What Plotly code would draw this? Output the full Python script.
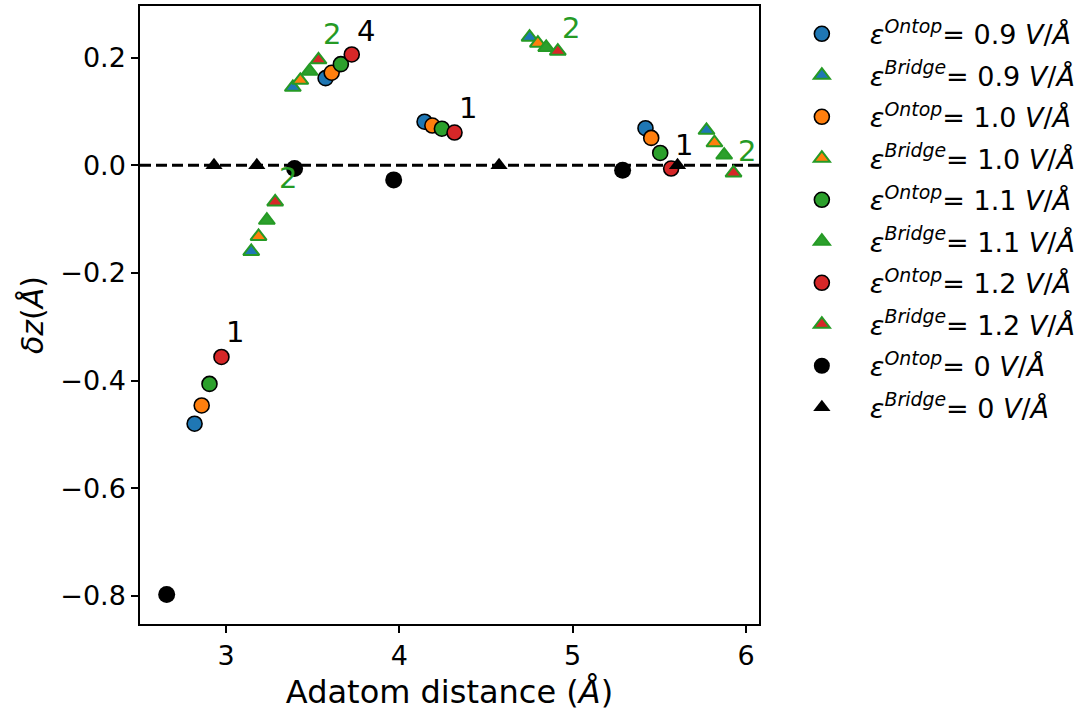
import plotly.graph_objects as go

# Adatom height shift vs. adatom distance, for ontop and bridge adsorption
fields = ["0.9", "1.0", "1.1", "1.2"]
field_colors = ["#1f77b4", "#ff7f0e", "#2ca02c", "#d62728"]
edge_green = "#259a25"

# Ontop sites (one value per field strength in each cluster)
ontop_x = {
    "0.9": [2.818, 3.574, 4.145, 5.420],
    "1.0": [2.859, 3.609, 4.190, 5.453],
    "1.1": [2.904, 3.662, 4.245, 5.505],
    "1.2": [2.973, 3.725, 4.318, 5.568],
}
ontop_y = {
    "0.9": [-0.480, 0.162, 0.081, 0.069],
    "1.0": [-0.446, 0.172, 0.074, 0.051],
    "1.1": [-0.406, 0.188, 0.068, 0.023],
    "1.2": [-0.356, 0.206, 0.061, -0.006],
}

# Bridge sites
bridge_x = {
    "0.9": [3.145, 3.385, 4.751, 5.772],
    "1.0": [3.187, 3.428, 4.799, 5.818],
    "1.1": [3.235, 3.481, 4.847, 5.874],
    "1.2": [3.283, 3.533, 4.914, 5.928],
}
bridge_y = {
    "0.9": [-0.160, 0.145, 0.238, 0.065],
    "1.0": [-0.132, 0.158, 0.227, 0.042],
    "1.1": [-0.102, 0.175, 0.219, 0.019],
    "1.2": [-0.068, 0.196, 0.212, -0.014],
}

# Zero-field reference
ontop0_x = [2.657, 3.395, 3.967, 5.288]
ontop0_y = [-0.797, -0.006, -0.027, -0.009]
bridge0_x = [2.930, 3.177, 4.575, 5.605]
bridge0_y = [0.0, 0.0, 0.0, 0.0]

# Cluster labels
label_x = [3.050, 3.356, 3.612, 3.806, 4.395, 4.991, 5.645, 6.003]
label_y = [-0.309, -0.024, 0.244, 0.249, 0.106, 0.256, 0.038, 0.026]
label_text = ["1", "2", "2", "4", "1", "2", "1", "2"]
label_kind = ["ontop", "bridge", "bridge", "ontop", "ontop", "bridge", "ontop", "bridge"]

FONT = "DejaVu Sans"

def legend_name(site, field):
    return f"<i>ε<sup>{site}</sup></i>= {field} <i>V</i>/<i>Å</i>"

fig = go.Figure()

for f, c in zip(fields, field_colors):
    fig.add_trace(go.Scatter(
        x=ontop_x[f], y=ontop_y[f], mode="markers",
        name=legend_name("Ontop", f), legendgroup="o" + f,
        marker=dict(symbol="circle", size=15, color=c,
                    line=dict(color="black", width=1.6)),
    ))
    fig.add_trace(go.Scatter(
        x=bridge_x[f], y=bridge_y[f], mode="markers",
        name=legend_name("Bridge", f), legendgroup="b" + f,
        marker=dict(symbol="triangle-up", size=14, color=c,
                    line=dict(color=edge_green, width=2)),
    ))

fig.add_trace(go.Scatter(
    x=ontop0_x, y=ontop0_y, mode="markers",
    name=legend_name("Ontop", "0"), legendgroup="o0",
    marker=dict(symbol="circle", size=17, color="black"),
))
fig.add_trace(go.Scatter(
    x=bridge0_x, y=bridge0_y, mode="markers",
    name=legend_name("Bridge", "0"), legendgroup="b0",
    marker=dict(symbol="triangle-up", size=15, color="black"),
))

# Zero reference line
fig.add_shape(type="line", xref="paper", x0=0, x1=1, yref="y", y0=0, y1=0,
              line=dict(color="black", width=3, dash="11px,5px"), layer="below")

for lx, ly, lt, lk in zip(label_x, label_y, label_text, label_kind):
    fig.add_annotation(x=lx, y=ly, text=lt, showarrow=False,
                       xanchor="center", yanchor="middle",
                       font=dict(family=FONT, size=29,
                                 color="black" if lk == "ontop" else edge_green))

axis_common = dict(showline=True, linecolor="black", linewidth=1.5, mirror=True,
                   ticks="outside", ticklen=7, tickwidth=1.5, tickcolor="black",
                   showgrid=False, zeroline=False,
                   tickfont=dict(family=FONT, size=27, color="black"))

fig.update_xaxes(range=[2.503, 6.075], tickvals=[3, 4, 5, 6],
                 title=dict(text="Adatom distance (<i>Å</i>)",
                            font=dict(family=FONT, size=32, color="black"),
                            standoff=10),
                 **axis_common)
fig.update_yaxes(range=[-0.852, 0.296], tickvals=[-0.8, -0.6, -0.4, -0.2, 0.0, 0.2],
                 ticktext=["−0.8", "−0.6", "−0.4", "−0.2", "0.0", "0.2"],
                 title=dict(text="<i>δz</i>(<i>Å</i>)",
                            font=dict(family=FONT, size=30, color="black"),
                            standoff=8),
                 **axis_common)

fig.update_layout(
    width=1086, height=718,
    margin=dict(l=140, r=327, t=4, b=94),
    plot_bgcolor="white", paper_bgcolor="white",
    font=dict(family=FONT, color="black"),
    legend=dict(x=1.024, y=0.994, xanchor="left", yanchor="top",
                font=dict(family=FONT, size=27, color="black"),
                tracegroupgap=3.4, itemwidth=86, bgcolor="rgba(0,0,0,0)"),
)

fig.write_html("out.html")
